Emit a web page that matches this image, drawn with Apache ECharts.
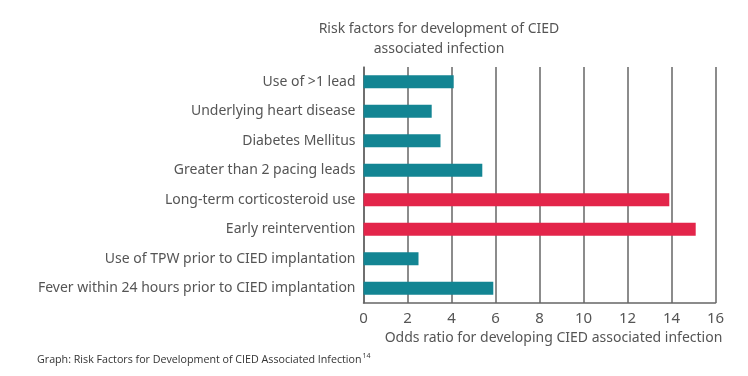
<!DOCTYPE html>
<html>
<head>
<meta charset="utf-8">
<script src="https://cdn.jsdelivr.net/npm/echarts@6/dist/echarts.min.js"></script>
<style>
	html, body { margin: 0; padding: 0; background: #fff; }
	#chart { width: 748px; height: 376px; }
</style>
</head>
<body>
<div id="chart"></div>
<script>
let categories = [
	"Use of >1 lead",
	"Underlying heart disease",
	"Diabetes Mellitus",
	"Greater than 2 pacing leads",
	"Long-term corticosteroid use",
	"Early reintervention",
	"Use of TPW prior to CIED implantation",
	"Fever within 24 hours prior to CIED implantation"
];
let oddsRatios = [4.1, 3.1, 3.5, 5.4, 13.9, 15.1, 2.5, 5.9];
let highlighted = [false, false, false, false, true, true, false, false];

let teal = "#138593";
let red = "#e3254a";
let font = "Noto Sans";

let chart = echarts.init(document.getElementById("chart"));

chart.setOption({
	animation: false,
	textStyle: {fontFamily: font},
	title: [{
		text: "Risk factors for development of CIED\nassociated infection",
		left: 434,
		top: 14,
		textAlign: "center",
		textStyle: {fontSize: 14, fontWeight: "normal", color: "#555", lineHeight: 20, fontFamily: font}
	}, {
		text: "Graph: Risk Factors for Development of CIED Associated Infection{sup|14}",
		left: 32,
		top: 347,
		textStyle: {
			fontSize: 10.7, fontWeight: "normal", color: "#333", fontFamily: "Open Sans",
			rich: {sup: {fontSize: 7, verticalAlign: "top", padding: [0, 0, 8, 1], color: "#333", fontFamily: "Open Sans"}}
		}
	}],
	grid: {left: 363.5, right: 32.5, top: 67, bottom: 73},
	xAxis: {
		type: "value",
		min: 0,
		max: 16,
		interval: 2,
		name: "Odds ratio for developing CIED associated infection",
		nameLocation: "middle",
		nameGap: 28,
		nameTextStyle: {fontSize: 14, color: "#555", fontFamily: font, padding: [0, 0, 0, 28]},
		axisLine: {show: true, lineStyle: {color: "#666", width: 1.5}},
		axisTick: {show: false},
		axisLabel: {fontSize: 15, color: "#555", margin: 8, fontFamily: font},
		splitLine: {show: true, lineStyle: {color: "#666", width: 1.5}}
	},
	yAxis: {
		type: "category",
		data: categories,
		inverse: true,
		axisLine: {show: true, lineStyle: {color: "#666", width: 1.5}},
		axisTick: {show: false},
		axisLabel: {fontSize: 14, color: "#555", margin: 8, fontFamily: font}
	},
	series: [{
		type: "bar",
		barWidth: 13,
		data: oddsRatios.map((v, i) => ({
			value: v,
			itemStyle: {color: highlighted[i] ? red : teal}
		}))
	}]
});
</script>
</body>
</html>
